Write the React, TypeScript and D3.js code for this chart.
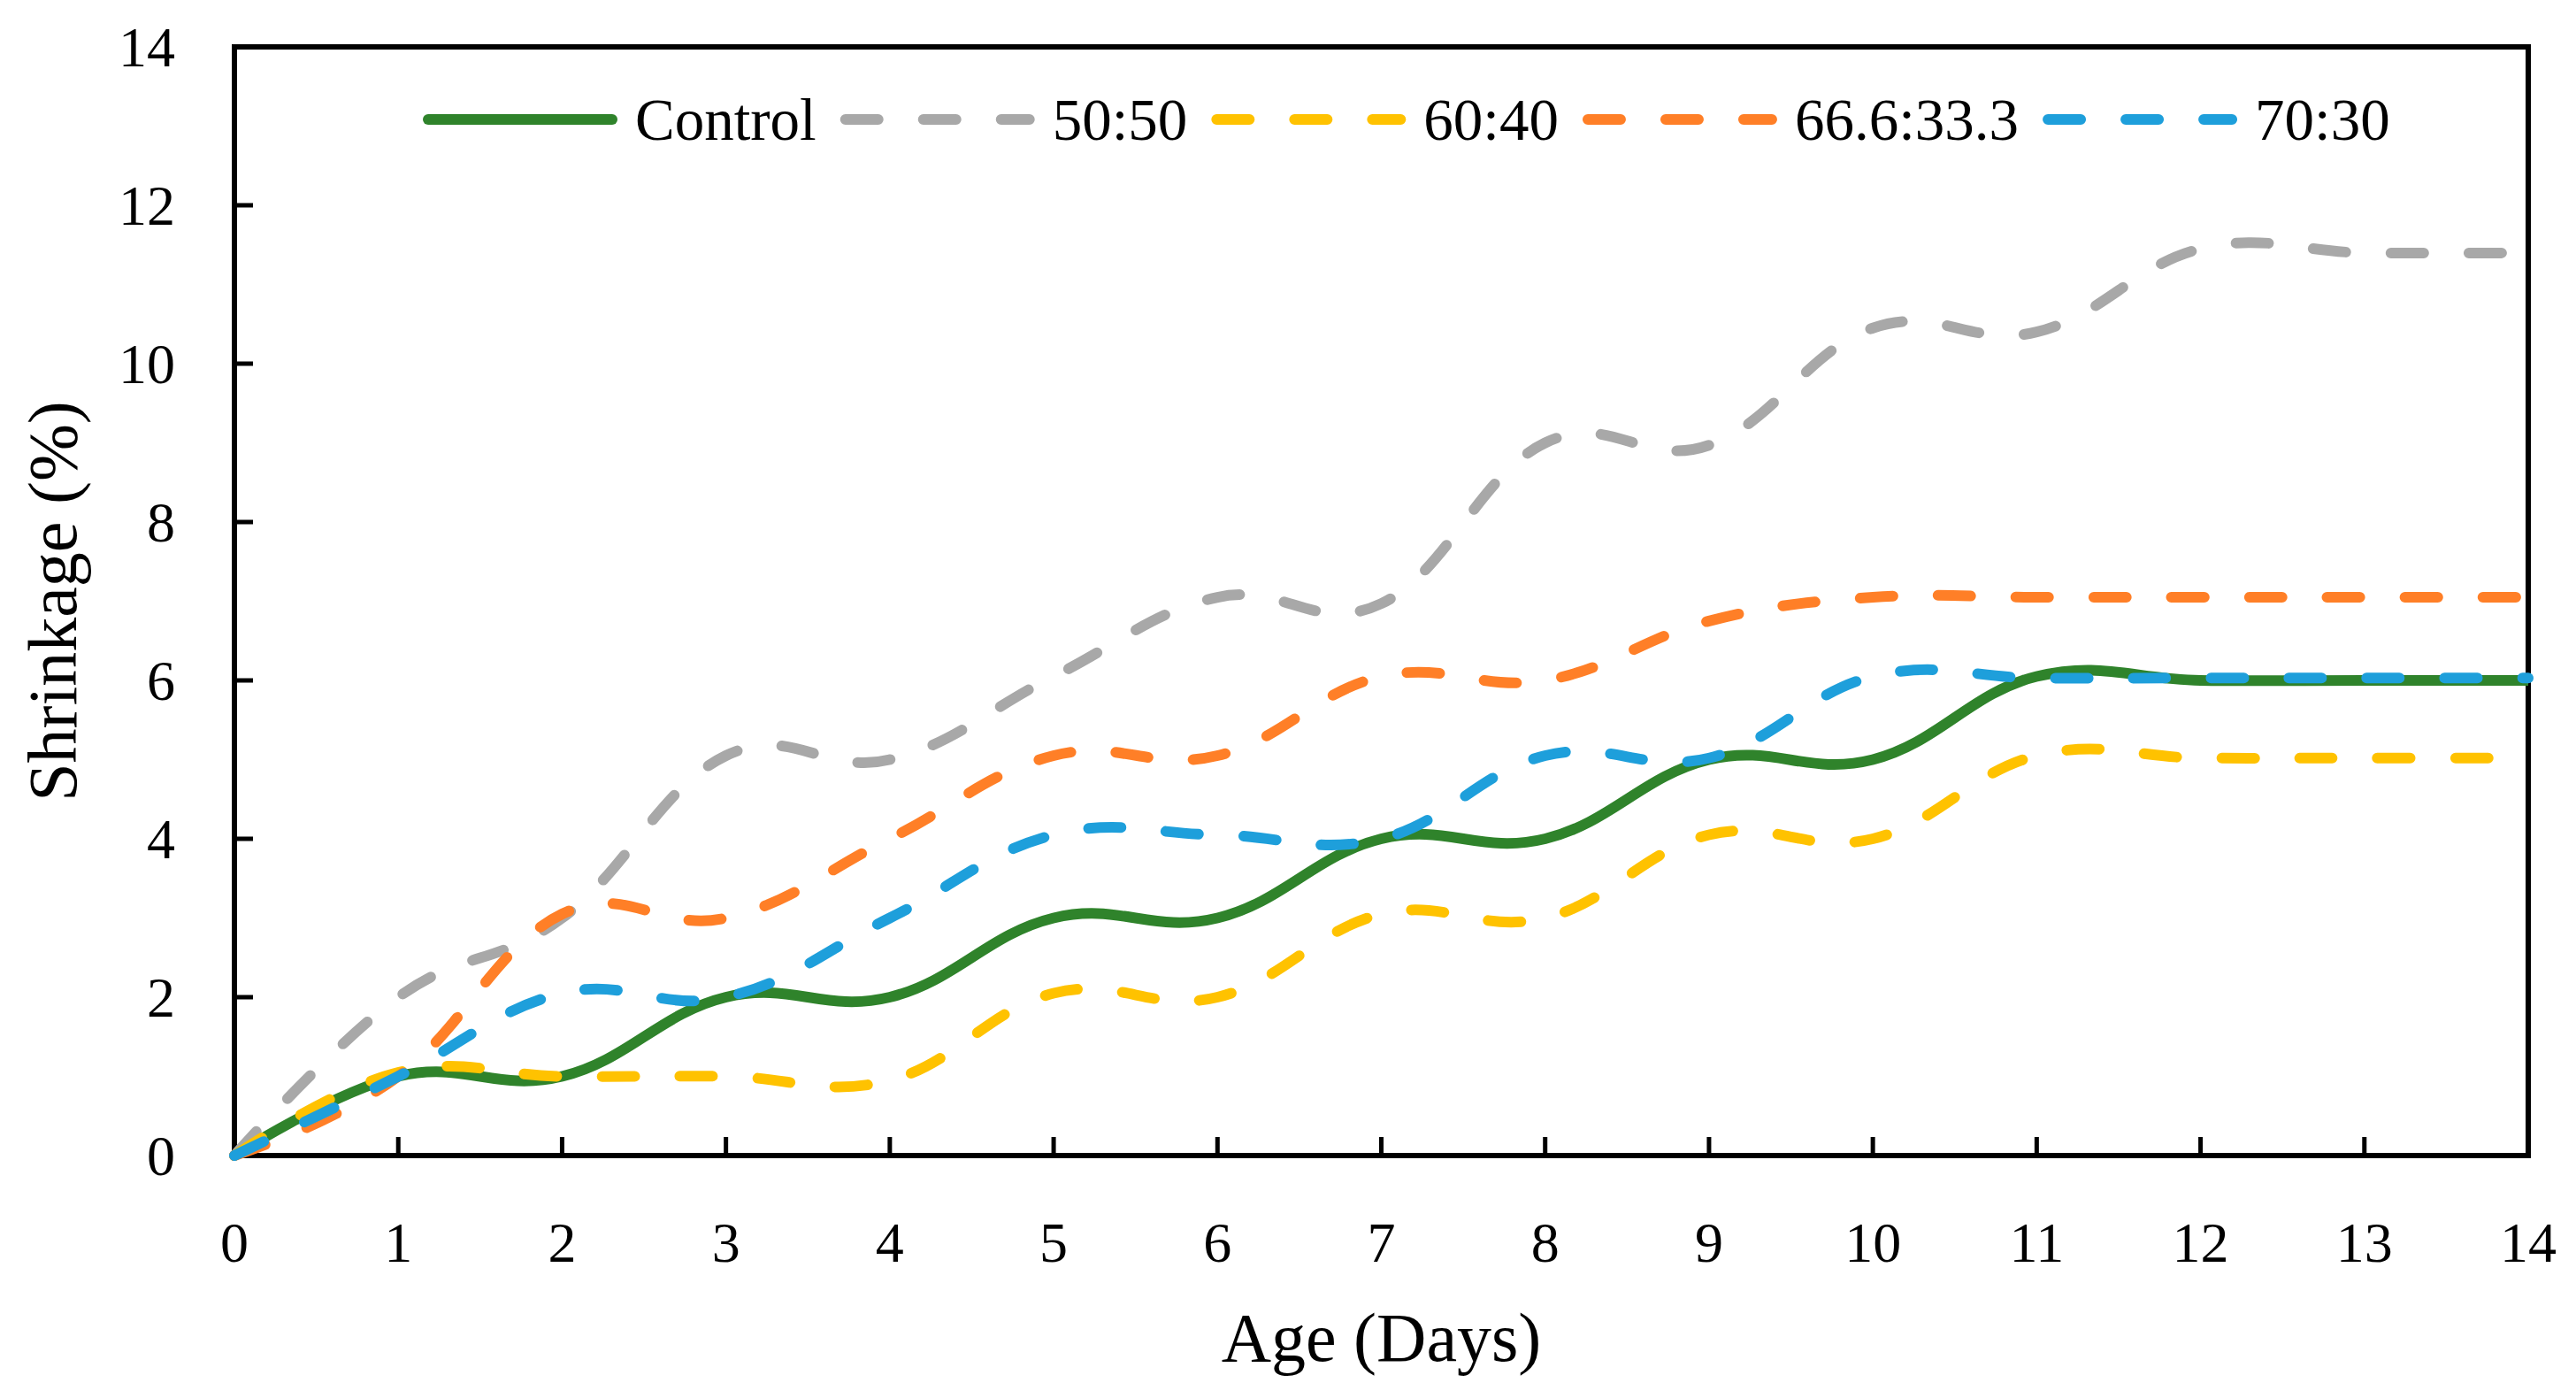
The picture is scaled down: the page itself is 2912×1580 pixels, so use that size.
import React from 'react';
import * as d3 from 'd3';

// ---- Data ----
const ages = [0, 1, 2, 3, 4, 5, 6, 7, 8, 9, 10, 11, 12, 13, 14];
const controlValues = [0, 1, 1, 2, 2, 3, 3, 4, 4, 5, 5, 6.05, 6, 6, 6];
const ratio5050Values = [0, 2, 3, 5.05, 5, 6.05, 7.05, 6.97, 9, 8.97, 10.45, 10.4, 11.45, 11.4, 11.4];
const ratio6040Values = [0, 1.05, 1, 1, 0.95, 2.05, 2, 3.05, 3, 4.05, 4, 5.05, 5.02, 5.02, 5.02];
const ratio666Values = [0, 1, 3.05, 3, 4, 5.05, 5.05, 6.05, 6, 6.75, 7.05, 7.05, 7.05, 7.05, 7.05];
const ratio7030Values = [0, 1, 2.05, 2, 3, 4.05, 4.05, 4, 5.05, 5.02, 6.05, 6.03, 6.03, 6.03, 6.03];

const seriesNames = ['Control', '50:50', '60:40', '66.6:33.3', '70:30'];
const seriesValues = [controlValues, ratio5050Values, ratio6040Values, ratio666Values, ratio7030Values];
const seriesColors = ['#2F832B', '#A8A8A8', '#FFC200', '#FF7F27', '#1E9FDB'];
const seriesDashed = [false, true, true, true, true];

const xTicks = [0, 1, 2, 3, 4, 5, 6, 7, 8, 9, 10, 11, 12, 13, 14];
const yTicks = [0, 2, 4, 6, 8, 10, 12, 14];

const xTitle = 'Age (Days)';
const yTitle = 'Shrinkage (%)';

// ---- Layout ----
const W = 2912;
const H = 1580;
const PLOT_L = 265;
const PLOT_R = 2858;
const PLOT_T = 53;
const PLOT_B = 1306;
const FONT = '"Liberation Serif", "Times New Roman", serif';
const TICK_FS = 64;
const LEGEND_FS = 67;
const TITLE_FS = 78;
const STROKE = 12;
const DASH = '37 51';

function measure(text: string, size: number): number {
  if (typeof document === 'undefined') return text.length * size * 0.5;
  const c = document.createElement('canvas');
  const ctx = c.getContext('2d');
  if (!ctx) return text.length * size * 0.5;
  ctx.font = `${size}px "Liberation Serif"`;
  return ctx.measureText(text).width;
}

export default function App() {
  const x = d3.scaleLinear().domain([0, 14]).range([PLOT_L, PLOT_R]);
  const y = d3.scaleLinear().domain([0, 14]).range([PLOT_B, PLOT_T]);

  const line = d3
    .line<number>()
    .x((_, i) => x(ages[i]))
    .y((d) => y(d))
    .curve(d3.curveCardinal.tension(-0.2));

  // legend layout
  const sampleLen = 208;
  const sampleToText = 26;
  const textToNext = 33;
  let cursor = 484;
  const legendY = 135;
  const legendItems = seriesNames.map((name, i) => {
    const sx = cursor;
    const tx = sx + sampleLen + sampleToText;
    const tw = measure(name, LEGEND_FS);
    cursor = tx + tw + textToNext;
    return { name, sx, tx, i };
  });

  return (
    <svg
      width={W}
      height={H}
      viewBox={`0 0 ${W} ${H}`}
      style={{ position: 'absolute', left: 0, top: 0, display: 'block', background: '#fff' }}
      fontFamily={FONT}
    >
      <rect x={0} y={0} width={W} height={H} fill="#fff" />

      {/* ticks (inside) */}
      {xTicks.slice(1, -1).map((t) => (
        <line key={`xt${t}`} x1={x(t)} x2={x(t)} y1={PLOT_B} y2={PLOT_B - 21} stroke="#000" strokeWidth={5} />
      ))}
      {yTicks.slice(1, -1).map((t) => (
        <line key={`yt${t}`} x1={PLOT_L} x2={PLOT_L + 21} y1={y(t)} y2={y(t)} stroke="#000" strokeWidth={5} />
      ))}

      {/* frame */}
      <rect
        x={PLOT_L}
        y={PLOT_T}
        width={PLOT_R - PLOT_L}
        height={PLOT_B - PLOT_T}
        fill="none"
        stroke="#000"
        strokeWidth={6}
      />

      {/* tick labels */}
      {xTicks.map((t) => (
        <text key={`xl${t}`} x={x(t)} y={PLOT_B + 120} fontSize={TICK_FS} textAnchor="middle" fill="#000">
          {t}
        </text>
      ))}
      {yTicks.map((t) => (
        <text key={`yl${t}`} x={198} y={y(t)} dy="0.35em" fontSize={TICK_FS} textAnchor="end" fill="#000">
          {t}
        </text>
      ))}

      {/* axis titles */}
      <text x={(PLOT_L + PLOT_R) / 2} y={1538} fontSize={TITLE_FS} textAnchor="middle" fill="#000">
        {xTitle}
      </text>
      <text
        transform={`translate(86, ${(PLOT_T + PLOT_B) / 2}) rotate(-90)`}
        fontSize={TITLE_FS}
        textAnchor="middle"
        fill="#000"
      >
        {yTitle}
      </text>

      {/* series */}
      {seriesValues.map((vals, i) => (
        <path
          key={`s${i}`}
          d={line(vals) || ''}
          fill="none"
          stroke={seriesColors[i]}
          strokeWidth={STROKE}
          strokeLinecap={seriesDashed[i] ? 'round' : 'butt'}
          strokeLinejoin="round"
          strokeDasharray={seriesDashed[i] ? DASH : undefined}
        />
      ))}

      {/* legend */}
      {legendItems.map((it) => (
        <g key={`lg${it.i}`}>
          <line
            x1={it.sx}
            x2={it.sx + sampleLen}
            y1={legendY}
            y2={legendY}
            stroke={seriesColors[it.i]}
            strokeWidth={STROKE}
            strokeLinecap="round"
            strokeDasharray={seriesDashed[it.i] ? DASH : undefined}
          />
          <text x={it.tx} y={legendY} dy="0.35em" fontSize={LEGEND_FS} fill="#000">
            {it.name}
          </text>
        </g>
      ))}
    </svg>
  );
}
